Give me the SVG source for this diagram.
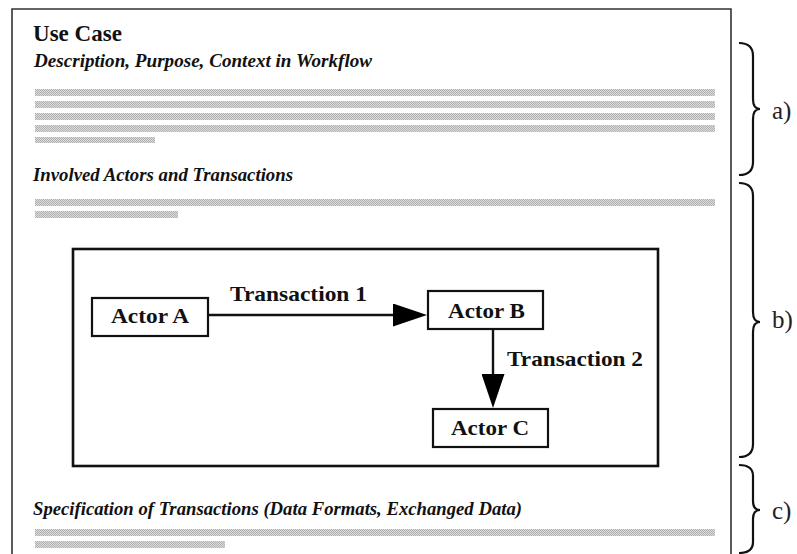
<svg xmlns="http://www.w3.org/2000/svg" width="797" height="554" viewBox="0 0 797 554">
<style>
text{font-family:'Liberation Serif','Times New Roman',Times,serif}
.ttl{font-weight:700;font-size:23px;fill:#111}
.hd{font-weight:700;font-style:italic;font-size:19px;fill:#111}
.act{font-weight:700;font-size:22px;fill:#111}
.lbl{font-weight:400;font-size:25px;fill:#222}
.box{fill:#fff;stroke:#111;stroke-width:2.2}
.frame{fill:none;stroke:#333;stroke-width:1.6}
.brace{fill:none;stroke:#111;stroke-width:2.2}
.bar{fill:url(#hatch)}
.conn{stroke:#111;stroke-width:2.4;fill:none}
</style>
<defs>
<pattern id="hatch" width="2" height="2" patternUnits="userSpaceOnUse">
<rect width="2" height="2" fill="#dcdcdc"/>
<rect width="1" height="1" fill="#b0b0b0"/>
<rect x="1" y="1" width="1" height="1" fill="#b0b0b0"/>
</pattern>
<marker id="arrH" markerUnits="userSpaceOnUse" markerWidth="34" markerHeight="23" refX="0" refY="11.5" orient="auto">
<path d="M0,0 L34,11.5 L0,23 z" fill="#000"/>
</marker>
</defs>
<rect width="797" height="554" fill="#fff"/>
<g id="frame">
<path class="frame" d="M12,560 L12,9 L731,9 L731,560"/>
</g>
<g id="section-a">
<text class="ttl" x="33" y="41" textLength="89" lengthAdjust="spacingAndGlyphs">Use Case</text>
<text class="hd" x="34" y="67" textLength="338" lengthAdjust="spacingAndGlyphs">Description, Purpose, Context in Workflow</text>
<rect class="bar" x="35" y="89" width="680" height="7"/>
<rect class="bar" x="35" y="101" width="680" height="7"/>
<rect class="bar" x="35" y="113" width="680" height="7"/>
<rect class="bar" x="35" y="125" width="680" height="7"/>
<rect class="bar" x="35" y="137" width="120" height="6"/>
</g>
<g id="section-b">
<text class="hd" x="33" y="181" textLength="260" lengthAdjust="spacingAndGlyphs">Involved Actors and Transactions</text>
<rect class="bar" x="35" y="199" width="680" height="7"/>
<rect class="bar" x="35" y="211" width="143" height="7"/>
<rect class="box" x="73" y="249" width="585" height="217" style="stroke-width:2.6"/>
</g>
<g id="actor-a">
<rect class="box" x="92" y="298" width="116" height="38"/>
<text class="act" x="111" y="323" textLength="78" lengthAdjust="spacingAndGlyphs">Actor A</text>
</g>
<g id="actor-b">
<rect class="box" x="428" y="291" width="115" height="38"/>
<text class="act" x="448" y="318" textLength="77" lengthAdjust="spacingAndGlyphs">Actor B</text>
</g>
<g id="actor-c">
<rect class="box" x="433" y="409" width="115" height="38"/>
<text class="act" x="451" y="435" textLength="78" lengthAdjust="spacingAndGlyphs">Actor C</text>
</g>
<g id="connectors">
<line class="conn" x1="208" y1="315" x2="393" y2="315" marker-end="url(#arrH)"/>
<text class="act" x="230" y="301" textLength="137" lengthAdjust="spacingAndGlyphs">Transaction 1</text>
<line class="conn" x1="493" y1="329" x2="493" y2="374" marker-end="url(#arrH)"/>
<text class="act" x="507" y="366" textLength="136" lengthAdjust="spacingAndGlyphs">Transaction 2</text>
</g>
<g id="section-c">
<text class="hd" x="33" y="515" textLength="489" lengthAdjust="spacingAndGlyphs">Specification of Transactions (Data Formats, Exchanged Data)</text>
<rect class="bar" x="35" y="529" width="680" height="7"/>
<rect class="bar" x="35" y="541" width="190" height="7"/>
</g>
<g id="brace-a">
<path class="brace" d="M739,43 Q753,43 753,56 L753,99 Q753,109 760,109 Q753,109 753,119 L753,162 Q753,175 739,175"/>
<text class="lbl" x="772" y="119">a)</text>
</g>
<g id="brace-b">
<path class="brace" d="M739,183 Q753,183 753,196 L753,312 Q753,322 760,322 Q753,322 753,332 L753,444 Q753,457 739,457"/>
<text class="lbl" x="772" y="328">b)</text>
</g>
<g id="brace-c">
<path class="brace" d="M739,465 Q753,465 753,476 L753,501 Q753,510 760,510 Q753,510 753,519 L753,542 Q753,553 739,553"/>
<text class="lbl" x="772" y="519">c)</text>
</g>
</svg>
